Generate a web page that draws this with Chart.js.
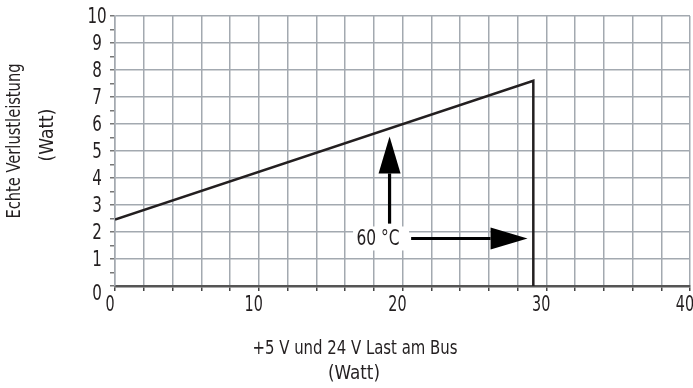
<!DOCTYPE html>
<html>
<head>
<meta charset="utf-8">
<script src="https://cdn.jsdelivr.net/npm/chart.js@4/dist/chart.umd.min.js"></script>
<style>
  body { margin: 0; background: #fff; }
</style>
</head>
<body>
<canvas id="lossChart" width="693" height="388"></canvas>
<script>
// derating curve: load on bus (W) vs. real power loss (W)
const loadWatt = [0, 29.1, 29.1];
const lossWatt = [2.46, 7.6, 0];

// axis ticks
const xTicks = [0, 10, 20, 30, 40];
const yTicks = [0, 1, 2, 3, 4, 5, 6, 7, 8, 9, 10];

// annotation: "60 °C" with two arrows
const upArrowX = [19.1, 19.1];
const upArrowY = [2.31, 5.54];
const rightArrowX = [20.6, 28.7];
const rightArrowY = [1.76, 1.76];
const tempLabel = '60 °C';
const tempLabelPos = [18.3, 1.76];

const FONT = '"Liberation Sans Narrow", "DejaVu Sans", sans-serif';
const GRID = '#a3a9b0';
const INK = '#231f20';

// draw text squeezed horizontally (reference uses a condensed face)
function squeezeText(ctx, text, x, y, k) {
    ctx.save();
    ctx.translate(x, y);
    ctx.scale(k, 1);
    ctx.fillText(text, 0, 0);
    ctx.restore();
}

function fitText(ctx, text, x, y, width) {
    const w = ctx.measureText(text).width;
    squeezeText(ctx, text, x, y, Math.min(1, width / w));
}

function drawArrow(ctx, x1, y1, x2, y2) {
    const headLen = 37, headW = 11;
    const ang = Math.atan2(y2 - y1, x2 - x1);
    const bx = x2 - headLen * Math.cos(ang), by = y2 - headLen * Math.sin(ang);
    ctx.beginPath();
    ctx.moveTo(x1, y1);
    ctx.lineTo(bx, by);
    ctx.lineWidth = 3.2;
    ctx.strokeStyle = '#000';
    ctx.stroke();
    ctx.beginPath();
    ctx.moveTo(x2, y2);
    ctx.lineTo(bx + headW * Math.sin(ang), by - headW * Math.cos(ang));
    ctx.lineTo(bx - headW * Math.sin(ang), by + headW * Math.cos(ang));
    ctx.closePath();
    ctx.fillStyle = '#000';
    ctx.fill();
}

const annotations = {
    id: 'annotations',
    afterDatasetsDraw(chart) {
        const ctx = chart.ctx, xs = chart.scales.x, ys = chart.scales.y;
        ctx.save();
        // label with white box
        const lx = xs.getPixelForValue(tempLabelPos[0]);
        const ly = ys.getPixelForValue(tempLabelPos[1]);
        ctx.fillStyle = '#fff';
        ctx.fillRect(lx - 25, ly - 12, 56, 24);
        ctx.font = 'condensed 21px ' + FONT;
        ctx.fillStyle = INK;
        ctx.textAlign = 'center';
        ctx.textBaseline = 'middle';
        fitText(ctx, tempLabel, lx, ly + 1, 43);
        drawArrow(ctx,
            xs.getPixelForValue(upArrowX[0]), ys.getPixelForValue(upArrowY[0]),
            xs.getPixelForValue(upArrowX[1]), ys.getPixelForValue(upArrowY[1]));
        drawArrow(ctx,
            xs.getPixelForValue(rightArrowX[0]), ys.getPixelForValue(rightArrowY[0]),
            xs.getPixelForValue(rightArrowX[1]), ys.getPixelForValue(rightArrowY[1]));
        ctx.restore();
    },
    afterDraw(chart) {
        const ctx = chart.ctx, xs = chart.scales.x, ys = chart.scales.y;
        ctx.save();
        ctx.fillStyle = INK;
        ctx.textAlign = 'center';
        ctx.textBaseline = 'middle';

        // tick labels, tall and narrow like the original
        ctx.font = 'condensed 21px ' + FONT;
        xTicks.forEach(v => squeezeText(ctx, String(v), xs.getPixelForValue(v) - 5, 306, 0.76));
        yTicks.forEach(v => squeezeText(ctx, String(v), 97, ys.getPixelForValue(v) + (v === 0 ? 9 : 2), 0.8));

        ctx.font = 'condensed 19px ' + FONT;
        // x axis title
        fitText(ctx, '+5 V und 24 V Last am Bus', 355, 349, 205);
        fitText(ctx, '(Watt)', 354, 374, 52);
        // y axis title
        ctx.save();
        ctx.translate(15, 141);
        ctx.rotate(-Math.PI / 2);
        fitText(ctx, 'Echte Verlustleistung', 0, 0, 155);
        ctx.restore();
        ctx.save();
        ctx.translate(48, 135);
        ctx.rotate(-Math.PI / 2);
        fitText(ctx, '(Watt)', 0, 0, 54);
        ctx.restore();
        ctx.restore();
    }
};

const ctx = document.getElementById('lossChart').getContext('2d');
const chart = new Chart(ctx, {
    type: 'line',
    data: {
        datasets: [{
            label: 'Verlustleistung',
            data: loadWatt.map((x, i) => ({ x: x, y: lossWatt[i] })),
            borderColor: INK,
            borderWidth: 2.5,
            pointRadius: 0,
            tension: 0,
            fill: false
        }]
    },
    options: {
        responsive: false,
        animation: false,
        layout: { padding: { left: 0, top: 16, right: 3, bottom: 0 } },
        plugins: {
            legend: { display: false },
            tooltip: { enabled: false }
        },
        scales: {
            x: {
                type: 'linear',
                min: xTicks[0],
                max: xTicks[xTicks.length - 1],
                border: { color: '#555', width: 2.5 },
                grid: {
                    color: GRID,
                    lineWidth: 1.5,
                    tickColor: '#444',
                    tickLength: 5
                },
                ticks: {
                    stepSize: 2,
                    autoSkip: false,
                    display: false
                },
                afterFit: s => { s.height = 102; s.paddingLeft = 0; s.paddingRight = 0; }
            },
            y: {
                min: yTicks[0],
                max: yTicks[yTicks.length - 1],
                border: { color: GRID, width: 1.5 },
                grid: {
                    color: c => (c.tick && Number.isInteger(c.tick.value)) ? GRID : 'rgba(0,0,0,0)',
                    lineWidth: 1.5,
                    tickColor: '#777',
                    tickLength: 5
                },
                ticks: {
                    stepSize: 0.5,
                    autoSkip: false,
                    display: false
                },
                afterFit: s => { s.width = 115; s.paddingTop = 0; s.paddingBottom = 0; }
            }
        }
    },
    plugins: [annotations]
});
</script>
</body>
</html>
